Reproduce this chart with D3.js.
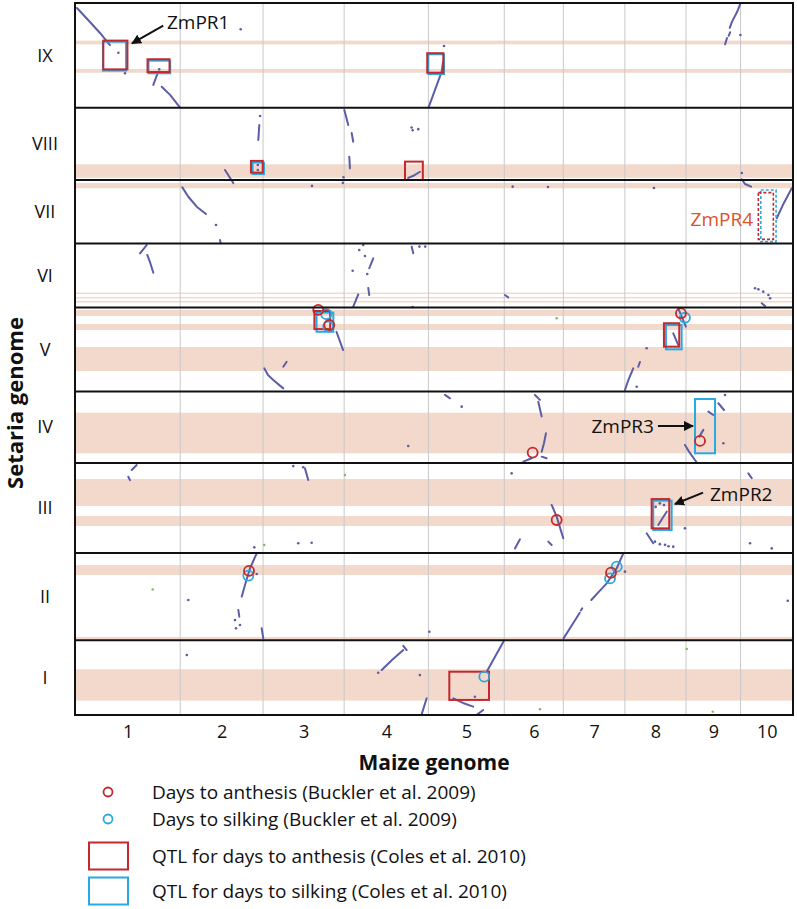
<!DOCTYPE html>
<html><head><meta charset="utf-8">
<script src="https://cdn.jsdelivr.net/npm/d3@7"></script>
<style>body{margin:0;background:#fff;} text{font-family:"Open Sans",sans-serif;}</style>
</head><body><svg id="c" width="797" height="909"></svg>
<script>
// ---------- data ----------
const maizeChroms = ["1","2","3","4","5","6","7","8","9","10"];
const maizeLengths = [301,237,232,241,217,169,176,175,156,150];           // Mb
const setariaChroms = ["I","II","III","IV","V","VI","VII","VIII","IX"];
const setariaLengths = [42.1,49.2,50.7,40.4,47.3,36.0,35.9,40.7,59.0];  // Mb

// flowering QTL bands on the Setaria genome [chr, start, end]
const qtlBands = [["IX",35.7,37.8],["IX",19.7,21.8],["VIII",1.2,8.8],["VII",31.2,34.1],
 ["VI",7.6,8.4],["VI",5.1,5.9],["VI",2.8,3.7],["V",42.5,45.9],["V",34.6,38.0],["V",11.5,25.0],
 ["IV",5.5,28.4],["III",26.5,41.7],["III",15.2,20.9],["II",36.8,42.4],["II",0.2,1.9],["I",8.1,25.8]];

// syntenic runs [maizeChr, maizeMb, setariaChr, setariaMb]
const syntenyRuns = [
 [[1,5.7,"IX",56.2],[1,42.9,"IX",48.3],[1,71.5,"IX",42.1],[1,100,"IX",35.3]],
 [[1,224,"IX",12.8],[1,238,"IX",20.3]],
 [[1,248,"IX",11.8],[1,272,"IX",7.2],[1,300,"IX",0.2]],
 [[5,0.5,"IX",0.2],[5,18.9,"IX",10.0],[5,38,"IX",20.3],[5,41.8,"IX",25.8]],
 [[9,155.8,"IX",58.8],[9,145.9,"IX",53.9],[9,131.6,"IX",48.5],[9,125,"IX",45]],
 [[9,126,"IX",42.5],[9,122,"IX",40.5]],
 [[9,117.3,"IX",39.3],[9,111.5,"IX",35.7]],
 [[2,226.2,"VIII",30.9],[2,223.4,"VIII",22.5]],
 [[2,128.1,"VIII",5.6],[2,151.9,"VII",34.1]],
 [[4,0.5,"VIII",39.4],[4,11.7,"VIII",30.9]],
 [[4,21.5,"VIII",26.4],[4,26,"VIII",21.5]],
 [[4,14.6,"VIII",13.1],[4,16.6,"VIII",6.5]],
 [[4,183,"VIII",1.1],[4,200,"VIII",2.5],[4,217,"VIII",4.6]],
 [[10,3.4,"VIII",0.3],[10,12.9,"VII",33.6],[10,30,"VII",32.1]],
 [[2,6.0,"VII",31.7],[2,23.2,"VII",26.4],[2,47.2,"VII",20.8],[2,73.8,"VII",16.7]],
 [[2,113.8,"VII",2.0],[2,115.8,"VII",0.2]],
 [[10,103.5,"VII",14.3],[10,121,"VII",21.7],[10,146.4,"VII",31.2]],
 [[1,205,"VI",35.2],[1,186,"VI",30.5]],
 [[1,206.8,"VI",29.6],[1,214.5,"VI",25.6],[1,224,"VI",19.6]],
 [[4,83.2,"VI",27.7],[4,71.8,"VI",22.1]],
 [[4,68.9,"VI",11.0],[4,71.8,"VI",7.0]],
 [[4,40.3,"VI",7.4],[4,26.0,"VI",0.5]],
 [[4,193.1,"VI",34.3],[4,197.6,"VI",30.5]],
 [[6,2,"VI",7.0],[6,11.4,"VI",5.7]],
 [[10,60.6,"VI",2.4],[10,70.1,"VI",0.8]],
 [[3,3.4,"V",13.0],[3,14,"V",9.2],[3,29.2,"V",6.4],[3,57.8,"V",1.7]],
 [[3,67.5,"V",16.7],[3,57.8,"V",13.9]],
 [[3,210,"V",33.6],[3,229,"V",23.3]],
 [[8,138.4,"V",32.7],[8,152.7,"V",26.2]],
 [[8,152.7,"V",46.8],[8,174.5,"V",36.5]],
 [[8,0.3,"V",0.8],[8,10.0,"V",6.4],[8,24.0,"V",13.0]],
 [[8,38.3,"V",13.9],[8,43.2,"V",16.6]],
 [[5,47.5,"IV",38.4],[5,61.8,"IV",36.5]],
 [[6,87.8,"IV",38.4],[6,102.2,"IV",35.6]],
 [[6,97.3,"IV",34.6],[6,107,"IV",26.2]],
 [[6,119.3,"IV",16.8],[6,113.6,"IV",11.2],[6,107,"IV",6.4]],
 [[6,54.3,"IV",0.8],[6,78.4,"IV",2.7]],
 [[6,107,"IV",3.6],[6,121.3,"IV",2.7]],
 [[9,49.5,"IV",18.7],[9,38,"IV",14.9]],
 [[9,63.8,"IV",29.0],[9,78.1,"IV",27.1]],
 [[9,92.4,"IV",33.7],[9,108.7,"IV",29.9]],
 [[8,172,"IV",10.2],[9,10,"IV",6],[9,30.6,"IV",0.3]],
 [[1,176.5,"III",49.6],[1,162.2,"III",46.8]],
 [[1,152.4,"III",43.0],[1,157.3,"III",41.1]],
 [[3,119.9,"III",47.7],[3,129.3,"III",41.1]],
 [[6,135.6,"III",27.1],[6,149.9,"III",20.5],[6,168.8,"III",8.3]],
 [[6,44.9,"III",7.7],[6,30.6,"III",2.6]],
 [[6,125.8,"III",6.4],[6,135.6,"III",4.5]],
 [[8,95.5,"III",15.8],[8,119.6,"III",23.3]],
 [[8,62.3,"III",11.1],[8,81.2,"III",5.5]],
 [[10,22.3,"III",44.9],[10,32,"III",42.2]],
 [[2,218.8,"II",49.0],[2,199.7,"II",40.6],[2,185.3,"II",31.2],[2,175.9,"II",24.6]],
 [[2,166.2,"II",17.1],[2,169,"II",13.3]],
 [[2,233.1,"II",6.8],[3,0.6,"II",1.1]],
 [[7,0.5,"II",1.1],[7,24.9,"II",8.6],[7,47,"II",15.5]],
 [[7,50,"II",16.8],[7,54,"II",18.0]],
 [[7,80,"II",22.7],[7,100,"II",27],[7,124.1,"II",32.1],[7,152.7,"II",40.6],[7,171.6,"II",49.0]],
 [[4,169.1,"I",36.6],[4,136.8,"I",31.0],[4,107.3,"I",25.4]],
 [[4,169.1,"I",39.0],[4,178.8,"I",36.6]],
 [[4,236,"I",9.4],[4,222,"I",0.6]],
 [[5,216.2,"I",41.9],[5,193.3,"I",33.8],[5,166.7,"I",24.4]],
 [[5,71.2,"I",9.4],[5,98.9,"I",6.8],[5,128.3,"I",4.7]],
 [[5,156.9,"I",2.8],[5,138,"I",0.1]]
];
const syntenyDots = [
 [1,124,"IX",31.0],[1,143,"IX",19.4],[1,241,"IX",21.6],[2,173,"IX",44.2],[5,44.6,"IX",34.8],[9,155.5,"IX",41.0],
 [2,228.5,"VIII",36.0],[2,222,"VIII",8.4],[2,222,"VIII",5.6],[3,230,"VIII",1.5],[4,193,"VIII",29.5],[4,196,"VIII",28.0],[4,212,"VIII",28.6],[10,3.5,"VIII",3.9],
 [2,102.4,"VII",10.5],[3,139.9,"VII",32.5],[3,228.2,"VII",34.2],[6,24.0,"VII",32.1],[6,125,"VII",31.9],[8,83.2,"VII",31.3],
 [4,54.6,"VI",35.2],[4,43.2,"VI",32.4],[4,59.5,"VI",29.0],[4,24.3,"VI",20.7],[4,66.1,"VI",18.9],[4,215.4,"VI",34.3],[4,196,"VI",0.2],[4,231.9,"VI",34.3],
 [10,41.5,"VI",10.8],[10,51,"VI",10.2],[10,65,"VI",8.9],[10,79.7,"VI",7.0],[10,84.4,"VI",5.2],
 [8,62.3,"V",24.3],[8,33.8,"V",2.6],
 [5,95.2,"IV",31.8],[9,111.5,"IV",38.4],[9,106.7,"IV",11.2],[4,183.3,"IV",9.6],
 [3,86.4,"III",49.0],[3,115,"III",48.3],[2,211.9,"III",3.2],[3,100.7,"III",5.5],[3,139,"III",5.8],[6,21.2,"III",44.9],
 [8,86.1,"III",6.4],[8,100,"III",5.0],[8,115,"III",4.6],[8,125,"III",3.8],[8,138.4,"III",3.6],[8,171.9,"III",13.9],
 [10,27.2,"III",5.5],[10,89.2,"III",2.6],[8,88,"III",26],[8,100,"III",28],[8,112,"III",27],
 [2,156.7,"II",11.4],[2,171,"II",8.6],[2,159.6,"II",6.8],[2,23.2,"II",22.7],[2,218.8,"II",37.4],[8,0.3,"II",38.7],[10,135,"II",22.3],[5,2.6,"II",4.8],
 [2,18.9,"I",33.8],[4,97.5,"I",23.8],[4,216.5,"I",22.5],[5,133.1,"I",10.3]
];
const greenDots = [[6,149.9,"V",41.2],[4,2.3,"III",44.0],[3,3.4,"III",4.5],[1,222.2,"II",28.7],
 [6,102.1,"I",3.2],[9,76.4,"I",1.9],[9,2,"I",37.2]];

// GWAS hits (Buckler et al. 2009)
const anthesisHits = [[3,157.9,"V",45.9],[3,189.4,"V",37.4],[8,160.4,"V",44.0],[6,81.2,"IV",5.9],
 [9,40.0,"IV",12.5],[6,149.9,"III",18.6],[2,196.8,"II",39.1],[7,136.4,"II",38.1]];
const silkingHits = [[3,180.7,"V",43.5],[3,186.4,"V",36.5],[8,171.8,"V",41.5],[2,194.8,"II",36.4],
 [7,133.6,"II",34.9],[7,152.7,"II",41.5],[5,159.9,"I",21.6]];

// QTL boxes (Coles et al. 2010) [maizeChr1, Mb1, maizeChr2, Mb2, setariaChr, Mb1, Mb2]
const anthesisQTL = [[1,81,1,150,"IX",21.6,37.8],[1,207.5,1,270.4,"IX",20.1,27.3],[4,237.7,5,42.6,"IX",19.7,30.7],
 [2,202.5,2,236,"VIII",4.1,10.7],[4,174,4,225,"VIII",0,10.3],[3,147,3,192,"V",35.1,45.3],
 [8,111.8,8,155.6,"V",25.2,38.4],[8,76.6,8,127,"III",13.9,30.4],[5,59.8,5,173.3,"I",8.5,24.4]];
const silkingQTL = [[1,80,1,146,"IX",20.9,37.2],[1,210.3,1,272.3,"IX",19.4,26.5],[4,240.7,5,44.6,"IX",19.0,30.1],
 [2,207,3,2.5,"VIII",3.3,9.7],[3,153,3,201,"V",33.6,44.4],[8,117.5,8,162.4,"V",23.7,37.4],
 [9,25.7,9,82.9,"IV",5.5,36.1],[8,81.2,8,133.8,"III",13.0,29.5]];
const zmpr4Anthesis = [[10,50.9,10,93.8,"VII",2.4,28.7]];
const zmpr4Silking = [[10,57.8,10,101.6,"VII",1.1,30.2]];

// callouts
const calloutLabels = ["ZmPR1","ZmPR2","ZmPR3"];
const calloutText = [[1,263,"IX",48.0,"start"],[9,68.6,"III",33.3,"start"],[8,83.2,"IV",20.9,"end"]];
const calloutFrom = [[1,252.5,"IX",46.3],[9,48.6,"III",34.0],[8,94.7,"IV",20.9]];
const calloutTo = [[1,163,"IX",36.2],[8,143.3,"III",27.6],[9,20,"IV",20.9]];
const zmpr4Label = ["ZmPR4",10,35.8,"VII",13.9];

const legendLabels = ["Days to anthesis (Buckler et al. 2009)","Days to silking (Buckler et al. 2009)",
 "QTL for days to anthesis (Coles et al. 2010)","QTL for days to silking (Coles et al. 2010)"];

// ---------- drawing ----------
const C = {dot:"#5b5ea6", red:"#c4272e", blue:"#29a9e0", band:"#f2d9cb", grid:"#c8c8c8", green:"#7bb661", orange:"#d6532c"};
const L=75, R=793, T=3, B=715;
const svg = d3.select("#c");
const mOff = Array.from(d3.cumsum([0].concat(maizeLengths)));
const sOff = Array.from(d3.cumsum([0].concat(setariaLengths)));
const x = d3.scaleLinear().domain([0, d3.sum(maizeLengths)]).range([L,R]);
const y = d3.scaleLinear().domain([0, d3.sum(setariaLengths)]).range([B,T]);
const si = c => setariaChroms.indexOf(c);
const gx = (c,mb) => x(mOff[c-1]+mb);
const gy = (c,mb) => y(sOff[si(c)]+mb);

// bands
svg.append("g").selectAll("rect").data(qtlBands).join("rect")
  .attr("x",L).attr("width",R-L)
  .attr("y",d=>gy(d[0],d[2])).attr("height",d=>gy(d[0],d[1])-gy(d[0],d[2]))
  .attr("fill",C.band);

// maize chromosome boundaries
svg.append("g").selectAll("line").data(mOff.slice(1,-1)).join("line")
  .attr("x1",d=>x(d)).attr("x2",d=>x(d)).attr("y1",T).attr("y2",B)
  .attr("stroke",C.grid).attr("stroke-width",1);

// synteny
const line = d3.line().x(d=>gx(d[0],d[1])).y(d=>gy(d[2],d[3]));
svg.append("g").selectAll("path").data(syntenyRuns).join("path")
  .attr("d",line).attr("fill","none").attr("stroke",C.dot).attr("stroke-width",2)
  .attr("stroke-linecap","round").attr("stroke-linejoin","round");
svg.append("g").selectAll("circle").data(syntenyDots).join("circle")
  .attr("cx",d=>gx(d[0],d[1])).attr("cy",d=>gy(d[2],d[3])).attr("r",1.3).attr("fill",C.dot);
svg.append("g").selectAll("circle").data(greenDots).join("circle")
  .attr("cx",d=>gx(d[0],d[1])).attr("cy",d=>gy(d[2],d[3])).attr("r",1.2).attr("fill",C.green);

// QTL boxes
function boxes(data,color,dash){
  svg.append("g").selectAll("rect").data(data).join("rect")
    .attr("x",d=>gx(d[0],d[1])).attr("width",d=>gx(d[2],d[3])-gx(d[0],d[1]))
    .attr("y",d=>gy(d[4],d[6])).attr("height",d=>gy(d[4],d[5])-gy(d[4],d[6]))
    .attr("fill","none").attr("stroke",color).attr("stroke-width",dash?1.6:2)
    .attr("stroke-dasharray",dash?"3,2":null);
}
boxes(silkingQTL,C.blue,false);
boxes(anthesisQTL,C.red,false);
boxes(zmpr4Silking,C.blue,true);
boxes(zmpr4Anthesis,C.red,true);

// GWAS circles
function hits(data,color){
  svg.append("g").selectAll("circle").data(data).join("circle")
    .attr("cx",d=>gx(d[0],d[1])).attr("cy",d=>gy(d[2],d[3])).attr("r",5)
    .attr("fill","none").attr("stroke",color).attr("stroke-width",1.8);
}
hits(silkingHits,C.blue);
hits(anthesisHits,C.red);

// frame
svg.append("g").selectAll("line").data(sOff).join("line")
  .attr("x1",L-1).attr("x2",R+1).attr("y1",d=>y(d)).attr("y2",d=>y(d))
  .attr("stroke","#111").attr("stroke-width",2);
svg.append("g").selectAll("line").data([L,R]).join("line")
  .attr("x1",d=>d).attr("x2",d=>d).attr("y1",T).attr("y2",B)
  .attr("stroke","#111").attr("stroke-width",2);

// axes
const xAxis = d3.axisBottom(x).tickValues(maizeLengths.map((l,i)=>mOff[i]+l/2))
  .tickFormat((d,i)=>maizeChroms[i]).tickSize(0).tickPadding(10);
const gxA = svg.append("g").attr("transform",`translate(0,${B})`).call(xAxis);
gxA.select(".domain").remove();
gxA.selectAll("text").attr("font-size",18).attr("font-family","Open Sans").attr("fill","#111");

const yAxis = d3.axisLeft(y).tickValues(setariaLengths.map((l,i)=>sOff[i]+l/2))
  .tickFormat((d,i)=>setariaChroms[i]).tickSize(0).tickPadding(30);
const gyA = svg.append("g").attr("transform",`translate(${L},0)`).call(yAxis);
gyA.select(".domain").remove();
gyA.selectAll("text").attr("font-size",18).attr("font-family","Open Sans").attr("fill","#111").attr("text-anchor","middle");

svg.append("text").attr("x",(L+R)/2).attr("y",770).attr("text-anchor","middle")
  .attr("font-size",21).attr("font-weight","bold").attr("fill","#111").text("Maize genome");
svg.append("text").attr("transform",`translate(22.5,403) rotate(-90)`).attr("text-anchor","middle")
  .attr("font-size",20.5).attr("font-weight","bold").attr("fill","#111")
  .attr("textLength",172).attr("lengthAdjust","spacingAndGlyphs").text("Setaria genome");

// callouts
const defs = svg.append("defs");
defs.append("marker").attr("id","ah").attr("viewBox","0 0 10 10").attr("refX",9).attr("refY",5)
  .attr("markerWidth",5).attr("markerHeight",5).attr("orient","auto")
  .append("path").attr("d","M0,0L10,5L0,10z").attr("fill","#111");
calloutLabels.forEach((lab,i)=>{
  const t=calloutText[i], f=calloutFrom[i], e=calloutTo[i];
  svg.append("line").attr("x1",gx(f[0],f[1])).attr("y1",gy(f[2],f[3]))
    .attr("x2",gx(e[0],e[1])).attr("y2",gy(e[2],e[3]))
    .attr("stroke","#111").attr("stroke-width",2).attr("marker-end","url(#ah)");
  svg.append("text").attr("x",gx(t[0],t[1])).attr("y",gy(t[2],t[3])).attr("dy","0.35em")
    .attr("text-anchor",t[4]).attr("font-size",19).attr("fill","#111").text(lab);
});
svg.append("text").attr("x",gx(zmpr4Label[1],zmpr4Label[2])).attr("y",gy(zmpr4Label[3],zmpr4Label[4]))
  .attr("dy","0.35em").attr("text-anchor","end").attr("font-size",19).attr("fill",C.orange).text(zmpr4Label[0]);

// legend
const lg = svg.append("g");
const rowsY = [792,819,856,891];
[C.red,C.blue].forEach((c,i)=>{
  lg.append("circle").attr("cx",108).attr("cy",rowsY[i]).attr("r",4.5).attr("fill","none").attr("stroke",c).attr("stroke-width",1.8);
});
[C.red,C.blue].forEach((c,i)=>{
  lg.append("rect").attr("x",89).attr("y",rowsY[i+2]-13.5).attr("width",39).attr("height",27)
    .attr("fill","none").attr("stroke",c).attr("stroke-width",2);
});
legendLabels.forEach((t,i)=>{
  lg.append("text").attr("x",152).attr("y",rowsY[i]).attr("dy","0.35em").attr("font-size",19).attr("fill","#111").text(t);
});
</script></body></html>
